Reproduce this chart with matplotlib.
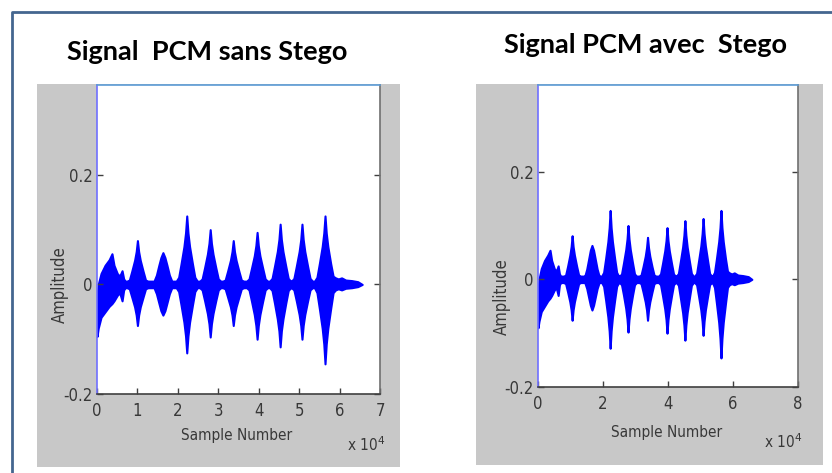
import numpy as np
import matplotlib.pyplot as plt
from matplotlib.patches import Rectangle
from matplotlib.lines import Line2D

# envelope of the PCM signal without stego
# x in units of 1e4 samples, upper / lower amplitude
x_sans = [0.0, 0.03, 0.1, 0.2, 0.3, 0.37, 0.42, 0.5, 0.56, 0.62, 0.66, 0.7,
          0.74, 0.8, 0.86, 0.93, 0.97, 1.0, 1.03, 1.07, 1.14, 1.2, 1.26,
          1.37, 1.41, 1.47, 1.53, 1.58, 1.63, 1.68, 1.73, 1.79, 1.85, 1.89,
          1.96, 2.02, 2.08, 2.15, 2.19, 2.22, 2.25, 2.29, 2.36, 2.42, 2.48,
          2.54, 2.6, 2.66, 2.73, 2.77, 2.8, 2.83, 2.87, 2.94, 3.0, 3.06,
          3.11, 3.17, 3.23, 3.3, 3.34, 3.37, 3.4, 3.44, 3.51, 3.57, 3.63,
          3.7, 3.76, 3.82, 3.89, 3.93, 3.96, 3.99, 4.03, 4.1, 4.16, 4.22,
          4.27, 4.33, 4.39, 4.46, 4.5, 4.53, 4.56, 4.6, 4.67, 4.73, 4.79,
          4.81, 4.87, 4.93, 5.0, 5.04, 5.07, 5.1, 5.14, 5.21, 5.27, 5.33,
          5.38, 5.44, 5.5, 5.57, 5.61, 5.64, 5.67, 5.71, 5.78, 5.84, 5.9,
          5.97, 6.05, 6.15, 6.3, 6.45, 6.56]
up_sans = [-0.02, 0.0, 0.02, 0.035, 0.045, 0.056, 0.035, 0.02, 0.015, 0.025, 0.01, 0.006,
           0.006, 0.008, 0.024, 0.044, 0.06, 0.08, 0.06, 0.044, 0.024, 0.008, 0.006,
           0.006, 0.006, 0.017, 0.035, 0.049, 0.058, 0.049, 0.035, 0.017, 0.006, 0.006,
           0.006, 0.013, 0.038, 0.069, 0.094, 0.125, 0.094, 0.069, 0.038, 0.013, 0.006,
           0.006, 0.01, 0.03, 0.055, 0.075, 0.1, 0.075, 0.055, 0.03, 0.01, 0.006,
           0.006, 0.008, 0.024, 0.044, 0.06, 0.08, 0.06, 0.044, 0.024, 0.008, 0.006,
           0.006, 0.01, 0.029, 0.052, 0.071, 0.095, 0.071, 0.052, 0.029, 0.01, 0.006,
           0.006, 0.011, 0.033, 0.06, 0.082, 0.11, 0.082, 0.06, 0.033, 0.011, 0.006,
           0.006, 0.011, 0.033, 0.06, 0.082, 0.11, 0.082, 0.06, 0.033, 0.011, 0.006,
           0.006, 0.013, 0.038, 0.069, 0.094, 0.125, 0.094, 0.069, 0.038, 0.015, 0.012,
           0.01, 0.012, 0.008, 0.007, 0.005, 0.0]
lo_sans = [-0.095, -0.08, -0.06, -0.05, -0.04, -0.035, -0.03, -0.02, -0.015, -0.03, -0.01, -0.006,
           -0.006, -0.008, -0.023, -0.041, -0.056, -0.075, -0.056, -0.041, -0.023, -0.008, -0.006,
           -0.006, -0.006, -0.017, -0.034, -0.048, -0.056, -0.048, -0.034, -0.017, -0.006, -0.006,
           -0.006, -0.013, -0.038, -0.069, -0.094, -0.125, -0.094, -0.069, -0.038, -0.013, -0.006,
           -0.006, -0.01, -0.029, -0.053, -0.072, -0.096, -0.072, -0.053, -0.029, -0.01, -0.006,
           -0.006, -0.008, -0.023, -0.041, -0.056, -0.075, -0.056, -0.041, -0.023, -0.008, -0.006,
           -0.006, -0.01, -0.03, -0.055, -0.075, -0.1, -0.075, -0.055, -0.03, -0.01, -0.006,
           -0.006, -0.011, -0.034, -0.063, -0.085, -0.114, -0.085, -0.063, -0.034, -0.011, -0.006,
           -0.006, -0.01, -0.03, -0.055, -0.075, -0.1, -0.075, -0.055, -0.03, -0.01, -0.006,
           -0.006, -0.015, -0.044, -0.08, -0.109, -0.145, -0.109, -0.08, -0.044, -0.015, -0.01,
           -0.008, -0.01, -0.007, -0.006, -0.004, 0.0]

# envelope of the PCM signal with stego
x_avec = [0.0, 0.03, 0.1, 0.2, 0.3, 0.37, 0.42, 0.5, 0.56, 0.62, 0.66, 0.7,
          0.79, 0.85, 0.91, 0.98, 1.02, 1.05, 1.08, 1.12, 1.19, 1.25, 1.31,
          1.4, 1.44, 1.5, 1.56, 1.61, 1.66, 1.71, 1.76, 1.82, 1.88, 1.92,
          1.96, 2.02, 2.08, 2.15, 2.19, 2.22, 2.25, 2.29, 2.36, 2.42, 2.48,
          2.51, 2.57, 2.63, 2.7, 2.74, 2.77, 2.8, 2.84, 2.91, 2.97, 3.03,
          3.11, 3.17, 3.23, 3.3, 3.34, 3.37, 3.4, 3.44, 3.51, 3.57, 3.63,
          3.71, 3.77, 3.83, 3.9, 3.94, 3.97, 4.0, 4.04, 4.11, 4.17, 4.23,
          4.26, 4.32, 4.38, 4.45, 4.49, 4.52, 4.55, 4.59, 4.66, 4.72, 4.78,
          4.82, 4.88, 4.94, 5.01, 5.05, 5.08, 5.11, 5.15, 5.22, 5.28, 5.34,
          5.37, 5.43, 5.49, 5.56, 5.6, 5.63, 5.66, 5.7, 5.77, 5.83, 5.89,
          5.96, 6.04, 6.15, 6.3, 6.47, 6.58]
up_avec = [-0.02, 0.0, 0.02, 0.035, 0.045, 0.054, 0.035, 0.02, 0.015, 0.025, 0.01, 0.006,
           0.006, 0.008, 0.024, 0.045, 0.061, 0.081, 0.061, 0.045, 0.024, 0.008, 0.006,
           0.006, 0.006, 0.019, 0.038, 0.054, 0.063, 0.054, 0.038, 0.019, 0.006, 0.006,
           0.006, 0.013, 0.038, 0.07, 0.096, 0.128, 0.096, 0.07, 0.038, 0.013, 0.006,
           0.006, 0.01, 0.03, 0.055, 0.075, 0.1, 0.075, 0.055, 0.03, 0.01, 0.006,
           0.006, 0.008, 0.023, 0.043, 0.059, 0.078, 0.059, 0.043, 0.023, 0.008, 0.006,
           0.006, 0.01, 0.029, 0.053, 0.072, 0.096, 0.072, 0.053, 0.029, 0.01, 0.006,
           0.006, 0.011, 0.033, 0.06, 0.082, 0.109, 0.082, 0.06, 0.033, 0.011, 0.006,
           0.006, 0.011, 0.034, 0.062, 0.085, 0.113, 0.085, 0.062, 0.034, 0.011, 0.006,
           0.006, 0.013, 0.038, 0.07, 0.096, 0.128, 0.096, 0.07, 0.038, 0.015, 0.012,
           0.01, 0.012, 0.008, 0.007, 0.005, 0.0]
lo_avec = [-0.09, -0.078, -0.06, -0.05, -0.04, -0.035, -0.03, -0.02, -0.015, -0.03, -0.01, -0.006,
           -0.006, -0.008, -0.023, -0.042, -0.057, -0.076, -0.057, -0.042, -0.023, -0.008, -0.006,
           -0.006, -0.006, -0.017, -0.034, -0.048, -0.057, -0.048, -0.034, -0.017, -0.006, -0.006,
           -0.006, -0.013, -0.038, -0.07, -0.096, -0.128, -0.096, -0.07, -0.038, -0.013, -0.006,
           -0.006, -0.01, -0.029, -0.054, -0.074, -0.098, -0.074, -0.054, -0.029, -0.01, -0.006,
           -0.006, -0.008, -0.023, -0.042, -0.057, -0.076, -0.057, -0.042, -0.023, -0.008, -0.006,
           -0.006, -0.01, -0.03, -0.055, -0.075, -0.1, -0.075, -0.055, -0.03, -0.01, -0.006,
           -0.006, -0.011, -0.034, -0.062, -0.085, -0.113, -0.085, -0.062, -0.034, -0.011, -0.006,
           -0.006, -0.01, -0.031, -0.057, -0.078, -0.104, -0.078, -0.057, -0.031, -0.01, -0.006,
           -0.006, -0.015, -0.044, -0.08, -0.11, -0.146, -0.11, -0.08, -0.044, -0.015, -0.01,
           -0.008, -0.01, -0.007, -0.006, -0.004, 0.0]

W, H = 832, 473
fig = plt.figure(figsize=(W / 100, H / 100), dpi=100)
fig.patch.set_facecolor('white')

def fx(px):
    return px / W

def fy(py):
    return (H - py) / H

# outer frame (left + top)
frame_col = '#44668f'
fig.add_artist(Line2D([fx(12), fx(12), 1.0], [0.0, fy(12), fy(12)],
                      color=frame_col, lw=2.0, transform=fig.transFigure))

tick_font = ['DejaVu Sans']
title_font = ['Lato', 'DejaVu Sans']
txt_col = '#383838'

panels = [
    dict(title='Signal  PCM sans Stego', tpos=(207, 52), grey=(37, 84, 400, 467),
         ax=(97, 85, 380, 394), ytop=0.364, xmax=7, xticks=range(0, 8),
         x=x_sans, up=up_sans, lo=lo_sans,
         xlab=(237, 435), mult=(366, 445), ylab=(60, 285)),
    dict(title='Signal PCM avec  Stego', tpos=(645, 45), grey=(476, 84, 823, 465),
         ax=(538, 85, 798, 387), ytop=0.361, xmax=8, xticks=range(0, 9, 2),
         x=x_avec, up=up_avec, lo=lo_avec,
         xlab=(667, 432), mult=(783, 442), ylab=(502, 297)),
]

for p in panels:
    gx0, gy0, gx1, gy1 = p['grey']
    fig.add_artist(Rectangle((fx(gx0), fy(gy1)), fx(gx1 - gx0), (gy1 - gy0) / H,
                             facecolor='#c8c8c8', edgecolor='none',
                             transform=fig.transFigure, zorder=0))
    fig.text(fx(p['tpos'][0]), fy(p['tpos'][1]), p['title'], ha='center', va='center',
             fontsize=19.5, fontweight='bold', family=title_font, color='black')

    ax0, ay0, ax1, ay1 = p['ax']
    ax = fig.add_axes([fx(ax0), fy(ay1), fx(ax1 - ax0), (ay1 - ay0) / H])
    ax.set_facecolor('white')
    ax.fill_between(p['x'], p['up'], p['lo'], color='#0000ff', lw=1.5,
                    edgecolor='#0000ff')
    ax.set_xlim(0, p['xmax'])
    ax.set_ylim(-0.2, p['ytop'])
    ax.set_xticks(list(p['xticks']))
    ax.set_xticklabels([str(t) for t in p['xticks']])
    ax.set_yticks([-0.2, 0, 0.2])
    ax.set_yticklabels(['-0.2', '0', '0.2'])
    ax.tick_params(direction='in', length=4, width=1, color='#404040',
                   top=False, right=True, labelcolor=txt_col, labelsize=12)
    ax.tick_params(axis='x', pad=6)
    ax.tick_params(axis='y', pad=3)
    for lbl in ax.get_xticklabels() + ax.get_yticklabels():
        lbl.set_family(tick_font)
        lbl.set_fontstretch('condensed')
    ax.spines['left'].set_color('#7070ff')
    ax.spines['top'].set_color('#5b9bd5')
    ax.spines['right'].set_color('#707070')
    ax.spines['bottom'].set_color('#404040')
    for s in ax.spines.values():
        s.set_linewidth(1.2)

    fig.text(fx(p['xlab'][0]), fy(p['xlab'][1]), 'Sample Number', ha='center', va='center',
             fontsize=11, color=txt_col, family=tick_font, fontstretch='condensed')
    fig.text(fx(p['ylab'][0]), fy(p['ylab'][1]), 'Amplitude', ha='center', va='center',
             rotation=90, fontsize=12, color=txt_col, family=tick_font, fontstretch='condensed')
    fig.text(fx(p['mult'][0]), fy(p['mult'][1]), r'x 10$^4$', ha='center', va='center',
             fontsize=11, color=txt_col, family=tick_font, fontstretch='condensed')

fig.savefig('out.png', dpi=100)
